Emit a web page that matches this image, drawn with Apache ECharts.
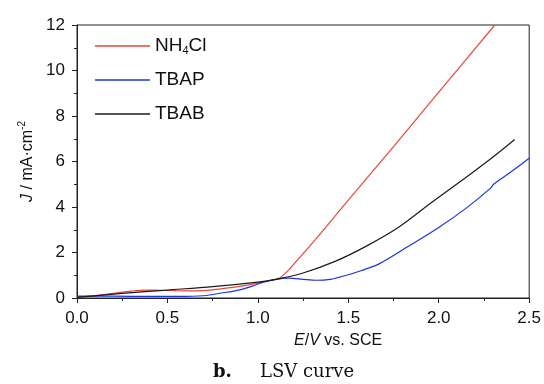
<!DOCTYPE html>
<html>
<head>
<meta charset="utf-8">
<script src="https://cdn.jsdelivr.net/npm/echarts@6/dist/echarts.min.js"></script>
<style>
  html, body { margin: 0; padding: 0; background: #fff; }
  #chart { width: 544px; height: 384px; }
</style>
</head>
<body>
<div id="chart"></div>
<script>
// LSV curves (E in V vs. SCE, J in mA/cm2)
const nh4clE = [0, 0.1, 0.2, 0.3, 0.38, 0.45, 0.55, 0.65, 0.75, 0.85, 0.95, 1.05, 1.12, 1.16, 1.2, 1.3, 1.5, 1.75, 2.0, 2.31];
const nh4clJ = [0.05, 0.1, 0.2, 0.3, 0.35, 0.34, 0.32, 0.31, 0.36, 0.46, 0.58, 0.74, 0.88, 1.15, 1.5, 2.4, 4.3, 6.65, 9.05, 12];

const tbapE = [0, 0.2, 0.4, 0.55, 0.7, 0.8, 0.9, 0.97, 1.03, 1.1, 1.17, 1.25, 1.32, 1.4, 1.48, 1.57, 1.67, 1.83, 2.0, 2.15, 2.29, 2.3, 2.4, 2.5];
const tbapJ = [0.08, 0.08, 0.07, 0.07, 0.1, 0.22, 0.36, 0.52, 0.7, 0.82, 0.87, 0.82, 0.78, 0.82, 0.98, 1.2, 1.5, 2.26, 3.1, 3.94, 4.85, 4.98, 5.55, 6.14];

const tbabE = [0, 0.25, 0.5, 0.75, 1.0, 1.1, 1.25, 1.43, 1.6, 1.78, 1.96, 2.15, 2.3, 2.42];
const tbabJ = [0.03, 0.2, 0.35, 0.5, 0.7, 0.82, 1.1, 1.62, 2.28, 3.12, 4.2, 5.3, 6.2, 6.97];

const xTicks = [0, 0.5, 1.0, 1.5, 2.0, 2.5];
const yTicks = [0, 2, 4, 6, 8, 10, 12];

function pairs(xs, ys) {
    return xs.map(function (x, i) { return [x, ys[i]]; });
}

let myChart = echarts.init(document.getElementById('chart'));
const font = 'Liberation Sans, Arial, sans-serif';
const serif = 'DejaVu Serif, serif';

myChart.setOption({
    backgroundColor: '#fff',
    animation: false,
    graphic: [
        { type: 'text', left: 213, top: 363, style: { text: 'b.', font: 'bold 18px ' + serif, fill: '#111' } },
        { type: 'text', left: 260, top: 363, style: { text: 'LSV curve', font: '18px ' + serif, fill: '#111' } }
    ],
    grid: {
        left: 77, right: 13, top: 25, bottom: 86,
        show: true, borderColor: '#222', borderWidth: 1
    },
    legend: {
        orient: 'vertical',
        left: 95,
        top: 35,
        padding: 0,
        icon: 'rect',
        itemWidth: 55,
        itemHeight: 1.5,
        itemGap: 12,
        formatter: function (name) {
            return name === 'NH4Cl' ? 'NH{s|4}Cl' : name;
        },
        textStyle: {
            fontFamily: font,
            fontSize: 19,
            lineHeight: 22,
            color: '#111',
            rich: {
                s: { fontFamily: font, fontSize: 11, color: '#111', padding: [10, 0, 0, 0] }
            }
        },
        data: ['NH4Cl', 'TBAP', 'TBAB']
    },
    xAxis: {
        type: 'value',
        min: 0, max: 2.5, interval: 0.5,
        name: '{i|E}/{i|V} vs. SCE',
        nameLocation: 'middle',
        nameGap: 35,
        nameTextStyle: {
            fontFamily: font, fontSize: 16, color: '#111',
            padding: [0, 0, 0, 70],
            rich: { i: { fontFamily: font, fontSize: 16, fontStyle: 'italic', color: '#111' } }
        },
        axisLine: { lineStyle: { color: '#222', width: 1 } },
        axisTick: { inside: false, length: 5, lineStyle: { color: '#222' } },
        minorTick: { show: true, splitNumber: 2, length: 3, lineStyle: { color: '#222' } },
        splitLine: { show: false },
        axisLabel: {
            fontFamily: font, fontSize: 17, color: '#111', margin: 12,
            formatter: function (v) { return xTicks.indexOf(v) >= 0 ? v.toFixed(1) : ''; }
        }
    },
    yAxis: {
        type: 'value',
        min: 0, max: 12, interval: 2,
        name: '{i|J} / mA·cm{sup|-2}',
        nameLocation: 'middle',
        nameRotate: 90,
        nameGap: 37,
        nameTextStyle: {
            fontFamily: font, fontSize: 16, color: '#111',
            rich: {
                i: { fontFamily: font, fontSize: 16, fontStyle: 'italic', color: '#111' },
                sup: { fontFamily: font, fontSize: 10, color: '#111', padding: [0, 0, 9, 0] }
            }
        },
        axisLine: { show: true, lineStyle: { color: '#222', width: 1 } },
        axisTick: { show: true, inside: false, length: 5, lineStyle: { color: '#222' } },
        minorTick: { show: true, splitNumber: 2, length: 3, lineStyle: { color: '#222' } },
        splitLine: { show: false },
        axisLabel: {
            fontFamily: font, fontSize: 17, color: '#111', margin: 12,
            formatter: function (v) { return yTicks.indexOf(v) >= 0 ? String(v) : ''; }
        }
    },
    series: [
        {
            name: 'NH4Cl', type: 'line', symbol: 'none', smooth: 0.3,
            lineStyle: { color: '#e8463c', width: 1.2 },
            itemStyle: { color: '#e8463c' },
            data: pairs(nh4clE, nh4clJ)
        },
        {
            name: 'TBAP', type: 'line', symbol: 'none', smooth: 0.3,
            lineStyle: { color: '#1c35d8', width: 1.2 },
            itemStyle: { color: '#1c35d8' },
            data: pairs(tbapE, tbapJ)
        },
        {
            name: 'TBAB', type: 'line', symbol: 'none', smooth: 0.3,
            lineStyle: { color: '#1a1a1a', width: 1.2 },
            itemStyle: { color: '#1a1a1a' },
            data: pairs(tbabE, tbabJ)
        }
    ]
});
</script>
</body>
</html>
